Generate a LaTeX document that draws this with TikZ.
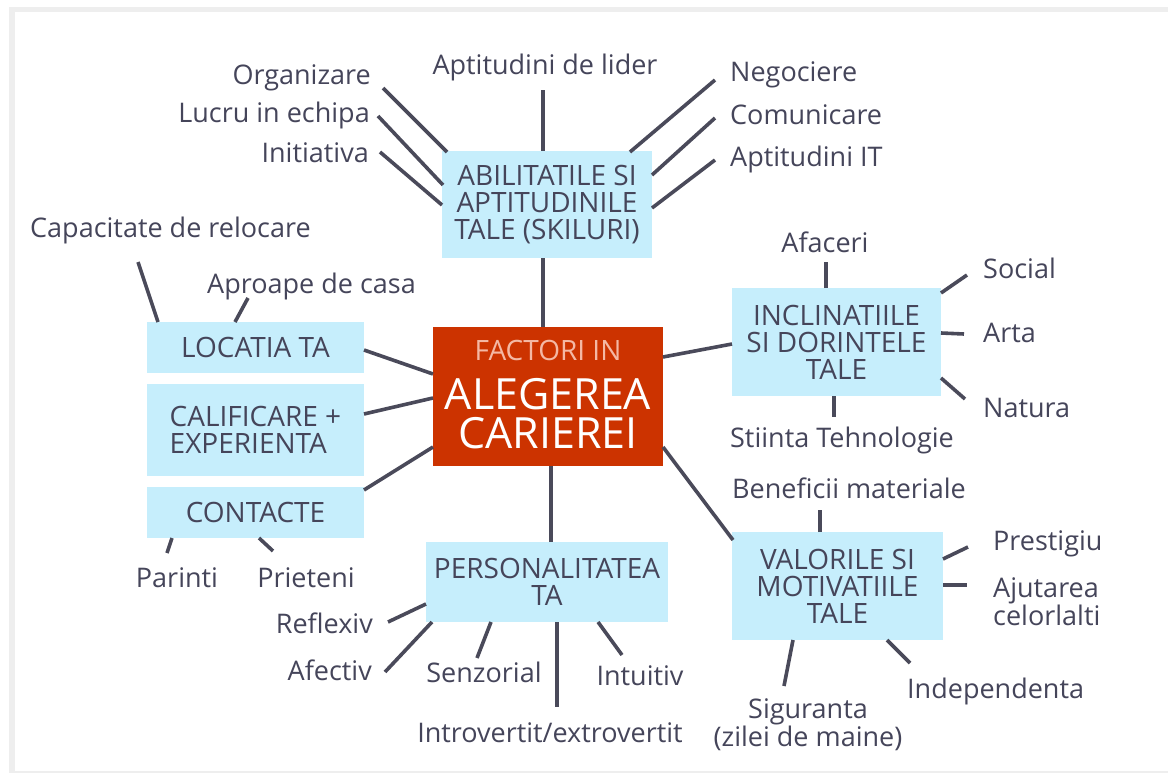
\documentclass[tikz,border=0pt]{standalone}
\usepackage{fontspec}
\setmainfont{Open Sans}
\definecolor{txt}{HTML}{45455A}
\definecolor{ln}{HTML}{4A4A5A}
\definecolor{boxblue}{HTML}{C6EEFC}
\definecolor{redbox}{HTML}{CC3300}
\definecolor{pinktxt}{HTML}{F4B8A4}
\definecolor{framegray}{HTML}{EEEEEE}
\begin{document}
\begin{tikzpicture}[x=1pt,y=-1pt,
 leaf/.style={text=txt, font=\fontsize{27}{28}\selectfont, inner sep=0pt},
 topic/.style={fill=boxblue, text=txt, font=\fontsize{28}{27}\selectfont, inner sep=0pt, align=center},
 link/.style={draw=ln, line width=3.6pt},
 centertxt/.style={anchor=base, inner sep=0pt}]
\useasboundingbox (0,0) rectangle (1168,773);
\fill[white] (0,0) rectangle (1168,773);
\fill[framegray] (9,7) rectangle (1168,773);
\fill[white] (15,12) rectangle (1168,771);

% central box
\node[fill=redbox, minimum width=230pt, minimum height=139pt, inner sep=0pt] (center) at (548,396.5) {};
\node[centertxt, text=pinktxt, font=\fontsize{28}{30}\selectfont] (ctop) at (548,360) {FACTORI IN};
\node[centertxt, text=white, font=\fontsize{43}{43}\selectfont] (cmid) at (548,409) {ALEGEREA};
\node[centertxt, text=white, font=\fontsize{43}{43}\selectfont] (cbot) at (548,448) {CARIEREI};

% topic boxes
\node[topic, minimum width=210pt, minimum height=107pt] (skills) at (547,204.5) {ABILITATILE SI\\APTITUDINILE\\TALE (SKILURI)};
\node[topic, minimum width=209pt, minimum height=108pt] (incl) at (836.5,342) {INCLINATIILE\\SI DORINTELE\\TALE};
\node[topic, minimum width=217pt, minimum height=51pt] (loc) at (255.5,347.5) {LOCATIA TA};
\node[topic, minimum width=217pt, minimum height=92pt, align=left] (cal) at (255.5,430) {CALIFICARE +\\EXPERIENTA};
\node[topic, minimum width=217pt, minimum height=51pt] (cont) at (255.5,512.5) {CONTACTE};
\node[topic, minimum width=242pt, minimum height=80pt] (pers) at (547,582) {PERSONALITATEA\\TA};
\node[topic, minimum width=211pt, minimum height=108pt] (val) at (837.5,586) {VALORILE SI\\MOTIVATIILE\\TALE};

% leaf labels
\node[leaf, anchor=base east] (org) at (371,85) {Organizare};
\node[leaf, anchor=base east] (lucru) at (370,123) {Lucru in echipa};
\node[leaf, anchor=base east] (init) at (369,163) {Initiativa};
\node[leaf, anchor=base] (lider) at (545,75) {Aptitudini de lider};
\node[leaf, anchor=base west] (neg) at (730,82) {Negociere};
\node[leaf, anchor=base west] (com) at (730,125) {Comunicare};
\node[leaf, anchor=base west] (ait) at (730,167) {Aptitudini IT};
\node[leaf, anchor=base west] (reloc) at (30,237) {Capacitate de relocare};
\node[leaf, anchor=base west] (casa) at (207,293) {Aproape de casa};
\node[leaf, anchor=base] (afac) at (825,252) {Afaceri};
\node[leaf, anchor=base west] (soc) at (983,278) {Social};
\node[leaf, anchor=base west] (arta) at (983,342) {Arta};
\node[leaf, anchor=base west] (nat) at (983,417) {Natura};
\node[leaf, anchor=base] (stiinta) at (842,447) {Stiinta Tehnologie};
\node[leaf, anchor=base] (parinti) at (177,587) {Parinti};
\node[leaf, anchor=base] (prieteni) at (306,587) {Prieteni};
\node[leaf, anchor=base east] (refl) at (373,633) {Reflexiv};
\node[leaf, anchor=base east] (afect) at (372,680) {Afectiv};
\node[leaf, anchor=base] (senz) at (484,682) {Senzorial};
\node[leaf, anchor=base] (intu) at (640,685) {Intuitiv};
\node[leaf, anchor=base] (intro) at (550,742) {Introvertit/extrovertit};
\node[leaf, anchor=base] (benef) at (849,498) {Beneficii materiale};
\node[leaf, anchor=base west] (prest) at (993,550) {Prestigiu};
\node[leaf, anchor=west, align=left] (ajut) at (993,602) {Ajutarea\\celorlalti};
\node[leaf, anchor=base west] (indep) at (907,698) {Independenta};
\node[leaf, align=center] (sigur) at (808,725) {Siguranta\\(zilei de maine)};

% free ends of the leaf connectors
\coordinate (eOrg) at (383,88);
\coordinate (eLucru) at (378,116);
\coordinate (eInit) at (380,152);
\coordinate (eLider) at (543,90);
\coordinate (eNeg) at (715,80);
\coordinate (eCom) at (715,118);
\coordinate (eAit) at (715,160);
\coordinate (eAfac) at (826,262);
\coordinate (eSoc) at (967,275);
\coordinate (eArta) at (964,334);
\coordinate (eNat) at (965,399);
\coordinate (eStiinta) at (834,417);
\coordinate (eReloc) at (138,262);
\coordinate (eCasa) at (248,298);
\coordinate (eParinti) at (167,553);
\coordinate (ePrieteni) at (273,551);
\coordinate (eRefl) at (388,622);
\coordinate (eAfect) at (385,672);
\coordinate (eSenz) at (477,658);
\coordinate (eIntu) at (622,655);
\coordinate (eIntro) at (557,707);
\coordinate (eBenef) at (820,510);
\coordinate (ePrest) at (968,547);
\coordinate (eAjut) at (967,585);
\coordinate (eIndep) at (910,663);
\coordinate (eSigur) at (784,686);

% central connectors
\draw[link] ([shift={(-5,-69.5)}]center.center) -- ([shift={(-4,53.5)}]skills.center);
\draw[link] ([shift={(115,-39.5)}]center.center) -- ([shift={(-104.5,2)}]incl.center);
\draw[link] ([shift={(-115,-22.5)}]center.center) -- ([shift={(108.5,2.5)}]loc.center);
\draw[link] ([shift={(-115,1.5)}]center.center) -- ([shift={(108.5,-16)}]cal.center);
\draw[link] ([shift={(-115,50.5)}]center.center) -- ([shift={(108.5,-22.5)}]cont.center);
\draw[link] ([shift={(3,69.5)}]center.center) -- ([shift={(4,-40)}]pers.center);
\draw[link] ([shift={(115,50.5)}]center.center) -- ([shift={(-104.5,-46)}]val.center);

% skills leaves
\draw[link] ([shift={(-100,-52.5)}]skills.center) -- (eOrg);
\draw[link] ([shift={(-104,-19.5)}]skills.center) -- (eLucru);
\draw[link] ([shift={(-105,0.5)}]skills.center) -- (eInit);
\draw[link] ([shift={(-4,-53.5)}]skills.center) -- (eLider);
\draw[link] ([shift={(83,-52.5)}]skills.center) -- (eNeg);
\draw[link] ([shift={(105,-29.5)}]skills.center) -- (eCom);
\draw[link] ([shift={(105,3.5)}]skills.center) -- (eAit);

% inclinatii leaves
\draw[link] ([shift={(-10.5,-54)}]incl.center) -- (eAfac);
\draw[link] ([shift={(104.5,-49)}]incl.center) -- (eSoc);
\draw[link] ([shift={(104.5,-9)}]incl.center) -- (eArta);
\draw[link] ([shift={(104.5,36)}]incl.center) -- (eNat);
\draw[link] ([shift={(-2.5,54)}]incl.center) -- (eStiinta);

% locatia / contacte leaves
\draw[link] ([shift={(-97.5,-25.5)}]loc.center) -- (eReloc);
\draw[link] ([shift={(-20.5,-25.5)}]loc.center) -- (eCasa);
\draw[link] ([shift={(-83.5,25.5)}]cont.center) -- (eParinti);
\draw[link] ([shift={(3.5,25.5)}]cont.center) -- (ePrieteni);

% personalitatea leaves
\draw[link] ([shift={(-121,22)}]pers.center) -- (eRefl);
\draw[link] ([shift={(-115,40)}]pers.center) -- (eAfect);
\draw[link] ([shift={(-56,40)}]pers.center) -- (eSenz);
\draw[link] ([shift={(51,40)}]pers.center) -- (eIntu);
\draw[link] ([shift={(10,40)}]pers.center) -- (eIntro);

% valorile leaves
\draw[link] ([shift={(-17.5,-54)}]val.center) -- (eBenef);
\draw[link] ([shift={(105.5,-27)}]val.center) -- (ePrest);
\draw[link] ([shift={(105.5,-1)}]val.center) -- (eAjut);
\draw[link] ([shift={(49.5,54)}]val.center) -- (eIndep);
\draw[link] ([shift={(-44.5,54)}]val.center) -- (eSigur);
\end{tikzpicture}
\end{document}
